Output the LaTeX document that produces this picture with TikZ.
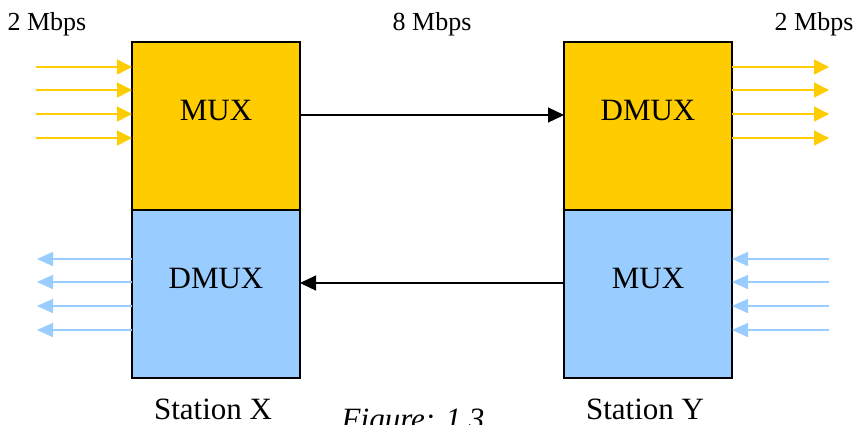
\documentclass[tikz,border=0pt]{standalone}
\usepackage{fontspec}
\setmainfont{Liberation Serif}
\usetikzlibrary{arrows.meta}
\definecolor{muxyellow}{HTML}{FFCC00}
\definecolor{dmuxblue}{HTML}{99CCFF}
\begin{document}
\begin{tikzpicture}[x=1pt,y=-1pt,
  unitbox/.style={draw=black, line width=1.4pt, minimum width=168pt,
    minimum height=168pt, inner sep=0pt, outer sep=0pt},
  boxtext/.style={anchor=base, inner sep=0pt, font=\fontsize{31}{36}\selectfont},
  ratetext/.style={anchor=base, inner sep=0pt, font=\fontsize{26}{30}\selectfont},
  captext/.style={anchor=base, inner sep=0pt, font=\fontsize{31}{36}\selectfont\itshape},
  ylink/.style={draw=muxyellow, line width=1.5pt, -{Triangle[length=15pt,width=15pt]}},
  blink/.style={draw=dmuxblue, line width=1.5pt, -{Triangle[length=16pt,width=14pt]}},
  trunk/.style={draw=black, line width=1.3pt, -{Triangle[length=16pt,width=15pt]}}]
\useasboundingbox (0,0) rectangle (856,424);

% station X
\node[unitbox, fill=muxyellow] (muxX) at (216,126) {};
\node[unitbox, fill=dmuxblue] (dmuxX) at (216,294) {};
% station Y
\node[unitbox, fill=muxyellow] (dmuxY) at (648,126) {};
\node[unitbox, fill=dmuxblue] (muxY) at (648,294) {};

\node[boxtext] (tMuxX) at (216,120) {MUX};
\node[boxtext] (tDmuxX) at (216,288) {DMUX};
\node[boxtext] (tDmuxY) at (648,120) {DMUX};
\node[boxtext] (tMuxY) at (648,288) {MUX};

% rate labels
\node[ratetext] (rIn) at (47,30) {2 Mbps};
\node[ratetext] (rTrunk) at (432,30) {8 Mbps};
\node[ratetext] (rOut) at (814,30) {2 Mbps};

% station names and caption
\node[boxtext] (sX) at (213,419) {Station X};
\node[boxtext] (sY) at (645,419) {Station Y};
\node[captext] (cap) at (413,429) {Figure: 1.3};

% trunk links between the stations
\coordinate (topline) at (432,115);
\coordinate (botline) at (432,283);
\draw[trunk] (muxX.east |- topline) -- (dmuxY.west |- topline);
\draw[trunk] (muxY.west |- botline) -- (dmuxX.east |- botline);

% tributary channels
\foreach \i/\yy in {1/67,2/90,3/114,4/138}{
  \coordinate (inX\i) at (36,\yy);
  \coordinate (outY\i) at (829,\yy);
  \draw[ylink] (inX\i) -- (inX\i -| muxX.west);
  \draw[ylink] (outY\i -| dmuxY.east) -- (outY\i);
}
\foreach \i/\yy in {1/259,2/282,3/306,4/330}{
  \coordinate (outX\i) at (37,\yy);
  \coordinate (inY\i) at (829,\yy);
  \draw[blink] (outX\i -| dmuxX.west) -- (outX\i);
  \draw[blink] (inY\i) -- (inY\i -| muxY.east);
}
\end{tikzpicture}
\end{document}
